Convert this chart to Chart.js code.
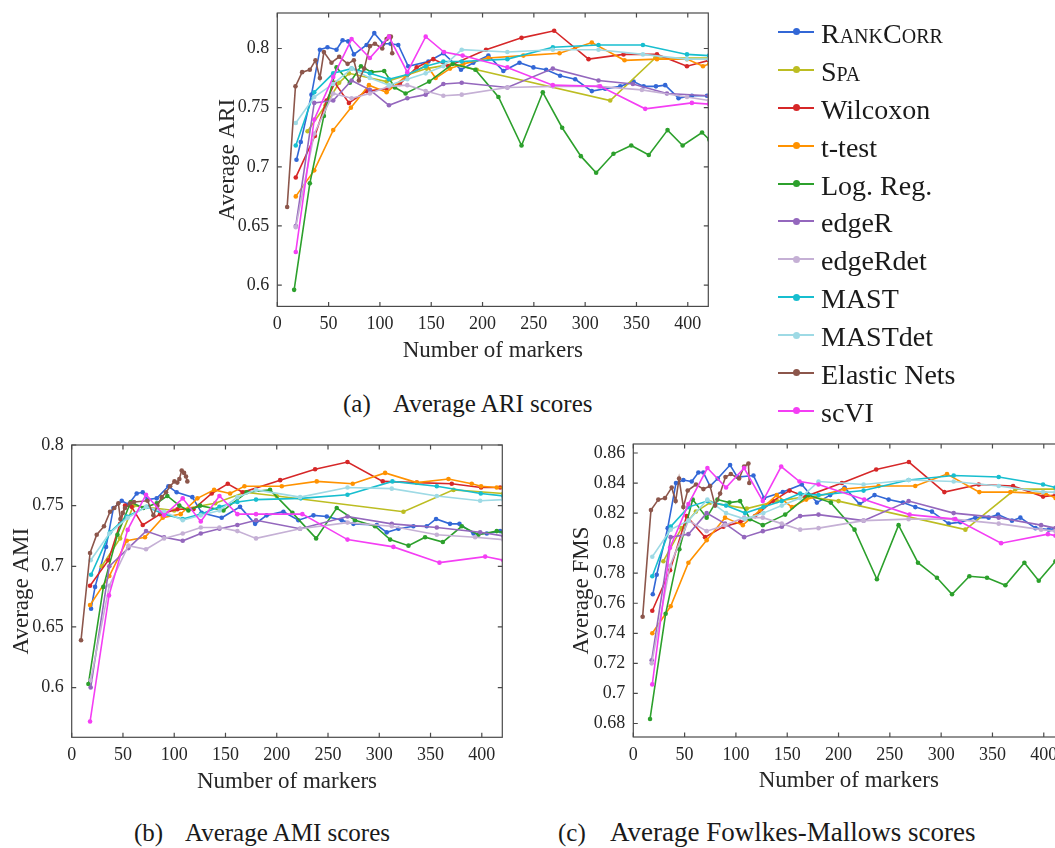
<!DOCTYPE html>
<html><head><meta charset="utf-8">
<script src="https://cdn.jsdelivr.net/npm/chart.js@4.4.1/dist/chart.umd.min.js"></script>
<style>
html,body{margin:0;padding:0;background:#fff;overflow:hidden;width:1055px;height:848px;}
body{position:relative;font-family:'Liberation Serif','DejaVu Serif',serif;color:#1a1a1a;}
canvas{position:absolute;}
.cap{position:absolute;font-size:25px;line-height:28px;white-space:nowrap;}
#legend{position:absolute;left:778px;top:15px;}
.row{height:37.9px;display:flex;align-items:center;}
.sample{position:relative;width:36px;height:2px;margin-right:7px;top:-2px;}
.sample i{position:absolute;left:14.5px;top:-2.5px;width:7px;height:7px;border-radius:50%;}
.lbl{font-size:28px;line-height:30px;white-space:nowrap;}
.sc{font-variant:small-caps;}
</style></head><body>
<canvas id="cA" width="510" height="384" style="left:210px;top:-11.7px;width:510px;height:384px"></canvas>
<canvas id="cB" width="510" height="384" style="left:4px;top:420px;width:510px;height:384px"></canvas>
<canvas id="cC" width="512" height="384" style="left:564px;top:419px;width:512px;height:384px"></canvas>
<div id="legend"></div>
<div class="cap" style="left:343px;top:390px">(a)</div>
<div class="cap" style="left:393px;top:390px">Average ARI scores</div>
<div class="cap" style="left:134px;top:819px">(b)</div>
<div class="cap" style="left:185px;top:819px">Average AMI scores</div>
<div class="cap" style="left:558px;top:819px">(c)</div>
<div class="cap" style="left:610px;top:818px;font-size:27px">Average Fowlkes-Mallows scores</div>
<script>
// ---------- categories / series ----------
const methods = ['RankCorr','Spa','Wilcoxon','t-test','Log. Reg.','edgeR','edgeRdet','MAST','MASTdet','Elastic Nets','scVI'];
const smallCaps = ['RankCorr','Spa'];
const colors = ['#3267d6','#bcbd22','#d62728','#ff9200','#2ca02c','#9467bd','#c5b0d5','#17becf','#9edae5','#8c564b','#f43ef4'];
const xTicks = [0,50,100,150,200,250,300,350,400];

// ---------- (a) ARI : [number of markers, score] ----------
const ARI_RankCorr = [[18.7,.706],[22.9,.721],[33.3,.761],[41.5,.799],[48.9,.801],[57.7,.799],[63.6,.807],[69.1,.806],[74.6,.795],[87,.803],[94.5,.813],[103.3,.804],[110.4,.804],[117.9,.803],[127.6,.785],[147.2,.789],[161.8,.796],[179,.782],[191,.788],[205.7,.794],[220.3,.781],[236,.788],[249.6,.784],[262,.782],[275.6,.777],[290.3,.774],[306.5,.764],[319.5,.766],[334.2,.768],[347.2,.772],[357,.768],[369,.768],[378,.769],[391,.758],[404,.760],[418.7,.760]];
const ARI_Spa = [[29.5,.730],[47,.752],[60.3,.771],[69.8,.779],[106.5,.772],[145.6,.783],[171,.787],[194.3,.782],[324.4,.756],[368.3,.792],[420.7,.792]];
const ARI_Wilcoxon = [[18,.691],[36.6,.726],[48,.756],[56,.771],[69.8,.754],[87,.764],[106.5,.766],[119.5,.770],[135.8,.784],[152,.791],[166.7,.785],[203.4,.799],[238,.809],[269.8,.815],[303.3,.791],[337.4,.795],[370,.795],[399.2,.785],[420.7,.790]];
const ARI_TTest = [[18,.675],[36,.697],[54.5,.731],[71.7,.750],[89.3,.769],[106.5,.763],[126,.777],[145.5,.786],[154.3,.775],[168.3,.783],[181.3,.787],[205.7,.792],[239.8,.794],[275,.796],[306.5,.805],[338.4,.790],[370,.791],[399.2,.791],[414.8,.785],[421,.787]];
const ARI_LogReg = [[16.4,.596],[31.7,.686],[45.4,.743],[57.7,.784],[70.7,.771],[81.5,.785],[91.9,.780],[104.2,.781],[114.6,.767],[125,.762],[148,.772],[171,.787],[193,.782],[215.5,.759],[238,.718],[258.7,.763],[277.6,.733],[295.8,.709],[310.7,.695],[327.6,.711],[344.9,.718],[362,.710],[380.3,.731],[395,.718],[413.9,.729],[421,.723]];
const ARI_edgeR = [[18,.650],[36,.754],[54.5,.756],[72.4,.773],[90.2,.765],[108.8,.752],[126.7,.758],[144.6,.761],[161.8,.770],[179.7,.771],[224.2,.767],[268.5,.783],[313,.773],[346.5,.770],[379.7,.762],[420.7,.760]];
const ARI_edgeRdet = [[18,.649],[36,.728],[54.5,.762],[72.4,.758],[90.2,.762],[108.8,.768],[126.7,.769],[144.6,.764],[161.8,.760],[179.7,.761],[224.2,.767],[268.5,.768],[313,.768],[355.3,.765],[399.2,.759],[420.7,.756]];
const ARI_MAST = [[18,.718],[36,.763],[54.5,.779],[72.4,.783],[90.2,.779],[108.8,.774],[126.7,.778],[144.6,.785],[161.8,.789],[179.7,.789],[224.2,.791],[268.5,.801],[313,.803],[356.3,.803],[399.2,.795],[420.7,.794]];
const ARI_MASTdet = [[18,.737],[36,.759],[54.5,.770],[72.4,.783],[90.2,.775],[108.8,.769],[126.7,.774],[144.6,.779],[161.8,.785],[179.7,.799],[224.2,.797],[268.5,.799],[313,.799],[356.3,.795],[399.2,.791],[420.7,.791]];
const ARI_ElasticNets = [[9.6,.666],[17.7,.768],[24.2,.780],[31.7,.782],[37.2,.790],[41.5,.775],[45.4,.797],[52.8,.788],[60.3,.793],[68.5,.787],[74.6,.790],[79.5,.773],[84.7,.783],[90.2,.802],[95.1,.804],[102.3,.800],[106.5,.808],[108.8,.810],[110.7,.810],[112,.796]];
const ARI_scVI = [[18,.628],[36,.740],[54.5,.776],[72.4,.808],[90.2,.792],[108.8,.810],[126.7,.780],[144.6,.810],[162.4,.797],[180.6,.794],[224.2,.784],[268.5,.769],[314.6,.768],[358.5,.749],[404,.754],[420.7,.753]];

// ---------- (b) AMI ----------
const AMI_RankCorr = [[18.9,.665],[22.8,.683],[33.5,.716],[40.7,.748],[48.8,.754],[55.3,.751],[63.4,.760],[69.3,.761],[73.8,.755],[82.9,.756],[94.3,.766],[102.4,.761],[117.7,.757],[126.8,.744],[146.3,.740],[164.2,.749],[178.9,.735],[190.2,.742],[206.5,.745],[221.1,.738],[235.8,.742],[248.8,.741],[263.4,.738],[274.8,.735],[297.6,.734],[307.3,.728],[318.7,.731],[333.3,.733],[346.3,.733],[355.4,.739],[369,.735],[378.2,.735],[391.9,.727],[404.9,.727],[417.9,.729]];
const AMI_Spa = [[29.3,.700],[47.2,.723],[60.2,.750],[100,.746],[140,.752],[169,.761],[200,.758],[323.6,.745],[372.4,.763],[421,.760]];
const AMI_Wilcoxon = [[17.9,.684],[35.8,.705],[47.2,.735],[52,.750],[58.5,.749],[69.3,.734],[86.2,.743],[103.1,.747],[118.7,.747],[136.6,.760],[152.2,.768],[166.8,.761],[203.3,.771],[237.4,.780],[269,.786],[303.4,.770],[336.6,.769],[370.7,.768],[399.3,.765],[417.9,.765]];
const AMI_TTest = [[17.9,.668],[36.7,.692],[53.7,.721],[71.5,.724],[88.8,.740],[106.3,.743],[122.6,.756],[138.9,.763],[154.5,.760],[168.5,.766],[204.9,.766],[239,.770],[274.1,.768],[305.7,.777],[336.6,.769],[367.5,.772],[390.2,.768],[399.3,.766],[414.6,.765],[421,.765]];
const AMI_LogReg = [[16.3,.603],[30.9,.683],[44.6,.726],[57.6,.753],[69.9,.748],[82.9,.752],[93.3,.758],[105,.750],[113.8,.746],[125.2,.750],[148,.746],[170.7,.761],[193.5,.763],[215.3,.744],[238.4,.723],[258.5,.748],[276.4,.738],[295.9,.733],[310.6,.722],[328.5,.717],[344.7,.724],[362,.720],[380.5,.733],[396.7,.726],[414.6,.729],[421,.728]];
const AMI_edgeR = [[18.5,.600],[36.7,.700],[55.3,.715],[72.5,.729],[90.1,.724],[108.3,.721],[125.9,.727],[144.1,.731],[161.6,.734],[179.8,.738],[222.8,.731],[269,.741],[312.2,.735],[356.1,.732],[398.4,.728],[421,.725]];
const AMI_edgeRdet = [[18.5,.606],[36.7,.684],[55.3,.717],[72.5,.714],[90.1,.723],[108.3,.727],[125.9,.732],[144.1,.732],[161.6,.729],[179.8,.723],[222.8,.731],[269,.736],[312.2,.733],[356.1,.726],[393.5,.724],[421,.722]];
const AMI_MAST = [[18.9,.693],[37.4,.728],[53.7,.741],[73.2,.749],[90.1,.743],[108.3,.739],[125.9,.743],[144.1,.749],[161.6,.753],[179.8,.755],[223.4,.756],[269,.759],[312.8,.770],[356.1,.766],[399,.760],[421,.758]];
const AMI_MASTdet = [[18.5,.705],[36.7,.727],[54.6,.740],[72.5,.749],[90.1,.745],[108.3,.738],[125.9,.742],[144.1,.746],[161.6,.757],[179.8,.763],[222.8,.757],[269,.765],[312.2,.764],[356.1,.758],[398.4,.754],[421,.755]];
const AMI_ElasticNets = [[9.1,.639],[17.9,.711],[24.4,.726],[31.5,.733],[37.4,.745],[41.6,.748],[45.5,.752],[47.5,.739],[49.8,.744],[52,.748],[57,.752],[60.8,.753],[74,.754],[79.7,.742],[83.6,.750],[87.8,.757],[92,.761],[96,.766],[100.2,.770],[103,.769],[105,.772],[107.3,.779],[109.6,.777],[111.5,.774],[112.8,.770]];
const AMI_scVI = [[17.9,.572],[36.4,.676],[54.6,.730],[72.5,.759],[90.1,.742],[108.3,.756],[125.9,.737],[144.1,.758],[161.6,.743],[179.8,.743],[225,.743],[269,.722],[313.8,.716],[358.7,.703],[403.3,.708],[421,.705]];

// ---------- (c) FMS ----------
const FMS_RankCorr = [[19,.766],[22.8,.779],[33.5,.810],[41.6,.840],[48.8,.842],[56.9,.841],[63.4,.847],[68.3,.847],[74.8,.838],[82.3,.843],[94.3,.852],[101.5,.844],[117.1,.845],[127.5,.830],[145.7,.834],[164.2,.839],[178.9,.827],[191.9,.832],[205.9,.837],[220.5,.826],[235.1,.832],[248.8,.829],[262.8,.827],[274.8,.824],[291,.821],[307.3,.813],[318.7,.814],[333.3,.817],[346.3,.817],[355.4,.819],[369,.815],[377.2,.817],[391.9,.810],[404.9,.809],[413,.810],[421,.810]];
const FMS_Spa = [[29.3,.788],[47,.810],[61,.821],[75,.827],[110.6,.823],[140,.828],[169,.831],[200,.828],[323.6,.809],[372.4,.836],[420,.836]];
const FMS_Wilcoxon = [[18.5,.755],[35.8,.782],[52,.818],[69.9,.804],[87.8,.811],[104.1,.814],[118.7,.818],[135.9,.828],[152.2,.835],[167.5,.831],[203.3,.840],[236.7,.849],[268.6,.854],[303.1,.834],[336.6,.839],[370.1,.838],[399.3,.831],[411.4,.832],[421,.833]];
const FMS_TTest = [[18.5,.740],[36.4,.758],[53.7,.787],[71.5,.802],[89.4,.817],[106.7,.812],[123.6,.822],[139.8,.832],[154.5,.824],[168.5,.829],[205.5,.836],[239,.838],[274.8,.838],[305.7,.846],[337.2,.834],[367.5,.834],[401.6,.833],[411.4,.830],[421,.829]];
const FMS_LogReg = [[16.3,.683],[31.5,.753],[44.9,.796],[57.9,.829],[71.5,.817],[82,.829],[93.7,.827],[104.1,.828],[113.8,.816],[126.2,.812],[148,.819],[170.7,.832],[192.5,.827],[215.6,.809],[237.4,.776],[258.5,.812],[277.4,.787],[295.9,.777],[310.6,.766],[327.5,.778],[344.7,.777],[362.6,.772],[381.1,.787],[395.1,.775],[411.4,.788],[421,.795]];
const FMS_edgeR = [[17.9,.722],[36.4,.804],[53.7,.806],[71.5,.820],[89.4,.813],[108,.804],[126.2,.808],[144.7,.811],[162.6,.818],[180.5,.819],[224.4,.815],[268.3,.828],[312.2,.820],[356.1,.817],[397.4,.812],[411.4,.810],[421,.809]];
const FMS_edgeRdet = [[17.9,.720],[35.8,.785],[53.7,.815],[71.5,.808],[89.4,.812],[108,.817],[126.2,.817],[144.7,.813],[162.6,.809],[180.5,.810],[224.4,.815],[268.3,.816],[312.2,.816],[356.1,.813],[397.4,.809],[411.4,.808],[421,.807]];
const FMS_MAST = [[18.5,.778],[36.4,.811],[53.7,.824],[72.2,.828],[90.4,.825],[108.9,.820],[126.8,.824],[144.7,.828],[162.6,.833],[180.5,.832],[224.4,.835],[268.3,.842],[312.2,.845],[356.1,.844],[399.3,.839],[411.4,.837],[421,.836]];
const FMS_MASTdet = [[18.5,.791],[36.4,.809],[53.7,.815],[72.2,.829],[90.4,.820],[108.9,.816],[126.8,.820],[144.7,.825],[162.6,.830],[180.5,.841],[224.4,.839],[268.3,.842],[312.2,.841],[356.1,.838],[399.3,.834],[411.4,.834],[421,.834]];
const FMS_ElasticNets = [[9.1,.751],[17.2,.822],[24.4,.829],[30.9,.830],[37.4,.837],[41.3,.828],[44.6,.843],[48.8,.824],[53,.835],[61.1,.839],[68.3,.836],[74.8,.838],[79.7,.825],[84.6,.833],[89.8,.844],[95,.846],[103.1,.843],[108,.851],[112.2,.853],[113,.840]];
const FMS_scVI = [[18.5,.706],[35.8,.797],[53.7,.826],[72.2,.850],[90.4,.837],[108,.850],[126.2,.828],[144.1,.851],[162,.841],[180.5,.839],[225,.829],[269.3,.819],[313.8,.816],[358.4,.800],[404,.806],[411.4,.805],[421,.804]];

const ARI = [ARI_RankCorr,ARI_Spa,ARI_Wilcoxon,ARI_TTest,ARI_LogReg,ARI_edgeR,ARI_edgeRdet,ARI_MAST,ARI_MASTdet,ARI_ElasticNets,ARI_scVI];
const AMI = [AMI_RankCorr,AMI_Spa,AMI_Wilcoxon,AMI_TTest,AMI_LogReg,AMI_edgeR,AMI_edgeRdet,AMI_MAST,AMI_MASTdet,AMI_ElasticNets,AMI_scVI];
const FMS = [FMS_RankCorr,FMS_Spa,FMS_Wilcoxon,FMS_TTest,FMS_LogReg,FMS_edgeR,FMS_edgeRdet,FMS_MAST,FMS_MASTdet,FMS_ElasticNets,FMS_scVI];

// ---------- drawing ----------
const F = "'Liberation Serif','DejaVu Serif',serif";
const INK = '#262626';

const boxPlugin = {
  id: 'matlabBox',
  afterDatasetsDraw(chart) {
    const {ctx, chartArea: a, scales: {x, y}} = chart;
    ctx.save();
    ctx.strokeStyle = '#4a4a4a';
    ctx.lineWidth = 1.2;
    ctx.strokeRect(a.left, a.top, a.right - a.left, a.bottom - a.top);
    const L = 4.5;
    ctx.beginPath();
    x.ticks.forEach(t => {
      const px = x.getPixelForValue(t.value);
      ctx.moveTo(px, a.bottom); ctx.lineTo(px, a.bottom - L);
      ctx.moveTo(px, a.top); ctx.lineTo(px, a.top + L);
    });
    y.ticks.forEach(t => {
      const py = y.getPixelForValue(t.value);
      ctx.moveTo(a.left, py); ctx.lineTo(a.left + L, py);
      ctx.moveTo(a.right, py); ctx.lineTo(a.right - L, py);
    });
    ctx.stroke();
    ctx.restore();
  }
};

function makeChart(id, series, yMin, yMax, yStep, yTitle, yWidth, padRight, padBottom) {
  const datasets = series.map((pts, i) => ({
    label: methods[i],
    data: pts.map(p => ({x: p[0], y: p[1]})),
    borderColor: colors[i],
    backgroundColor: colors[i],
    pointBackgroundColor: colors[i],
    pointBorderColor: colors[i],
    borderWidth: 1.6,
    pointRadius: 2.3,
    pointBorderWidth: 0,
    tension: 0,
    order: methods.length - 1 - i
  }));
  new Chart(document.getElementById(id), {
    type: 'line',
    data: {datasets},
    plugins: [boxPlugin],
    options: {
      responsive: false, animation: false, devicePixelRatio: 1,
      layout: {padding: {left: 0, right: padRight, top: 25, bottom: padBottom}},
      plugins: {legend: {display: false}, tooltip: {enabled: false}},
      scales: {
        x: {
          type: 'linear', min: 0, max: 420,
          grid: {display: false, drawTicks: false}, border: {display: false},
          afterBuildTicks: s => { s.ticks = xTicks.map(v => ({value: v})); },
          ticks: {padding: 7, color: INK, font: {family: F, size: 18}, maxRotation: 0, autoSkip: false},
          title: {display: true, text: 'Number of markers', color: INK, font: {family: F, size: 23}, padding: {top: 4, bottom: 4}},
          afterFit: s => { s.height = 62.1; }
        },
        y: {
          type: 'linear', min: yMin, max: yMax,
          grid: {display: false, drawTicks: false}, border: {display: false},
          ticks: {stepSize: yStep, includeBounds: false, padding: 8, color: INK, font: {family: F, size: 18},
                  callback: v => String(+v.toFixed(3))},
          title: {display: true, text: yTitle, color: INK, font: {family: F, size: 23}, padding: {top: 4, bottom: 4}},
          afterFit: s => { s.width = yWidth; }
        }
      }
    }
  });
}

makeChart('cA', ARI, 0.582, 0.83, 0.05, 'Average ARI', 67.3, 11.7, 3.5);
makeChart('cB', AMI, 0.559, 0.80, 0.05, 'Average AMI', 67.7, 11.7, 4.6);
makeChart('cC', FMS, 0.671, 0.866, 0.02, 'Average FMS', 69.3, 11.7, 3.9);

// ---------- legend ----------
const leg = document.getElementById('legend');
methods.forEach((m, i) => {
  const row = document.createElement('div');
  row.className = 'row';
  const s = document.createElement('div');
  s.className = 'sample';
  s.style.background = colors[i];
  const dot = document.createElement('i');
  dot.style.background = colors[i];
  s.appendChild(dot);
  const t = document.createElement('span');
  t.className = 'lbl' + (smallCaps.includes(m) ? ' sc' : '');
  t.textContent = m;
  row.appendChild(s); row.appendChild(t);
  leg.appendChild(row);
});
</script>
</body></html>
